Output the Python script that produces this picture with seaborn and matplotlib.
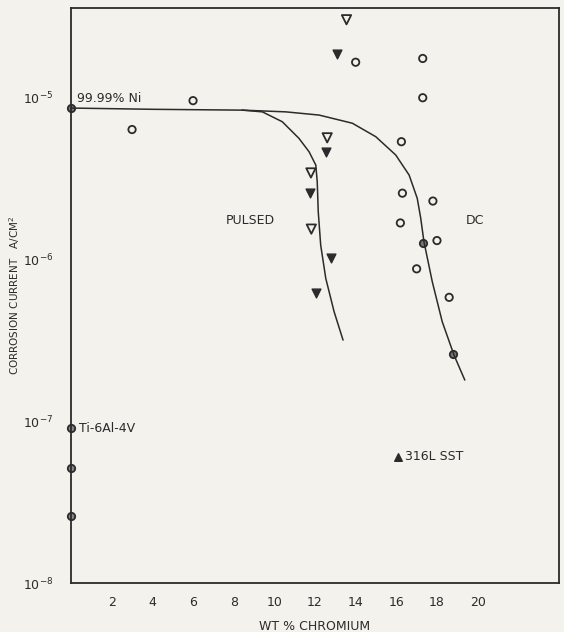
import numpy as np
import pandas as pd
import seaborn as sns
import matplotlib.pyplot as plt

# data
ni_x = [0]
ni_y = [8.5e-6]

dc_open_x = [3, 6, 14, 17.3, 17.3, 16.25, 16.3, 17.8, 16.2, 18.0, 17.0, 18.6]
dc_open_y = [6.3e-6, 9.5e-6, 1.64e-5, 1.73e-5, 9.9e-6, 5.3e-6, 2.55e-6, 2.28e-6,
             1.67e-6, 1.30e-6, 8.7e-7, 5.8e-7]
dc_on_x = [17.3, 18.8]
dc_on_y = [1.26e-6, 2.6e-7]

pulsed_open_x = [13.55, 12.6, 11.8, 11.82]
pulsed_open_y = [3.0e-5, 5.6e-6, 3.4e-6, 1.53e-6]
pulsed_fill_x = [13.1, 12.55, 11.77, 12.8, 12.03]
pulsed_fill_y = [1.84e-5, 4.6e-6, 2.57e-6, 1.02e-6, 6.2e-7]

ti_x = [0, 0, 0]
ti_y = [9.0e-8, 5.1e-8, 2.6e-8]
sst_x = [16.1]
sst_y = [6.0e-8]

# hand-drawn curves
flat_x = [0, 4, 8.43]
flat_y = [8.55e-6, 8.4e-6, 8.3e-6]
pulsed_cx = [8.43, 9.41, 10.39, 11.21, 11.71, 12.04, 12.11, 12.16, 12.28, 12.53, 12.94, 13.38]
pulsed_cy = [8.3e-6, 8.1e-6, 7.04e-6, 5.56e-6, 4.59e-6, 3.80e-6, 3.0e-6, 1.96e-6,
             1.22e-6, 7.6e-7, 4.73e-7, 3.16e-7]
dc_cx = [8.43, 10.56, 12.2, 13.84, 14.99, 15.97, 16.63, 17.03, 17.2, 17.36, 17.77,
         18.26, 18.84, 19.37]
dc_cy = [8.3e-6, 8.1e-6, 7.74e-6, 6.89e-6, 5.69e-6, 4.39e-6, 3.30e-6, 2.37e-6,
         1.79e-6, 1.28e-6, 7.24e-7, 4.10e-7, 2.55e-7, 1.79e-7]

xticks = [2, 4, 6, 8, 10, 12, 14, 16, 18, 20]

sns.set_style("white")
plt.rcParams['font.family'] = ['Liberation Sans Narrow', 'DejaVu Sans']
ink = "#2b2b2b"
bg = "#f4f2ec"

fig = plt.figure(figsize=(5.64, 6.32), dpi=100, facecolor=bg)
ax = fig.add_axes([0.126, 0.0775, 0.865, 0.91])
ax.set_facecolor(bg)
ax.set_yscale("log")

# curves
for cx, cy in [(flat_x, flat_y), (pulsed_cx, pulsed_cy), (dc_cx, dc_cy)]:
    sns.lineplot(x=cx, y=cy, ax=ax, color=ink, lw=1.1, sort=False, estimator=None)

# points
sns.scatterplot(x=dc_open_x, y=dc_open_y, ax=ax, marker="o", s=28,
                facecolor="none", edgecolor=ink, linewidth=1.3)
sns.scatterplot(x=dc_on_x + ni_x, y=dc_on_y + ni_y, ax=ax, marker="o", s=28,
                color="#777777", edgecolor=ink, linewidth=1.3, clip_on=False)
sns.scatterplot(x=pulsed_open_x, y=pulsed_open_y, ax=ax, marker="v", s=45,
                facecolor="none", edgecolor=ink, linewidth=1.3)
sns.scatterplot(x=pulsed_fill_x, y=pulsed_fill_y, ax=ax, marker="v", s=40,
                color=ink, edgecolor=ink, linewidth=1)
sns.scatterplot(x=ti_x, y=ti_y, ax=ax, marker="o", s=28,
                color="#888888", edgecolor=ink, linewidth=1.3, clip_on=False)
sns.scatterplot(x=sst_x, y=sst_y, ax=ax, marker="^", s=30,
                color=ink, edgecolor=ink, linewidth=1)

# annotations
ax.text(0.3, 8.9e-6, "99.99% Ni", fontsize=9, color=ink, va="bottom")
ax.text(7.6, 1.65e-6, "PULSED", fontsize=9, color=ink)
ax.text(19.4, 1.65e-6, "DC", fontsize=9, color=ink)
ax.text(0.4, 9.0e-8, "Ti-6Al-4V", fontsize=9, color=ink, va="center")
ax.text(16.45, 6.0e-8, "316L SST", fontsize=9, color=ink, va="center")

ax.set_xlim(0, 24)
ax.set_ylim(1e-8, 3.55e-5)
ax.set_xticks(xticks)
ax.set_xticklabels([str(t) for t in xticks])
ax.set_yticks([1e-8, 1e-7, 1e-6, 1e-5])
ax.set_yticklabels([r"$10^{-8}$", r"$10^{-7}$", r"$10^{-6}$", r"$10^{-5}$"])
ax.minorticks_off()
ax.tick_params(axis="both", direction="inout", length=6, width=1, colors=ink,
               labelsize=9, pad=6)
ax.tick_params(axis="y", pad=10)

for side in ["left", "bottom", "top", "right"]:
    ax.spines[side].set_color(ink)
    ax.spines[side].set_linewidth(1.3)

ax.set_xlabel("WT % CHROMIUM", fontsize=9, color=ink, labelpad=8)
ax.set_ylabel("CORROSION CURRENT   A/CM$^2$", fontsize=7.5, color=ink)
ax.yaxis.set_label_coords(-0.1, 0.5)

fig.savefig("out.png", dpi=100, facecolor=bg)
